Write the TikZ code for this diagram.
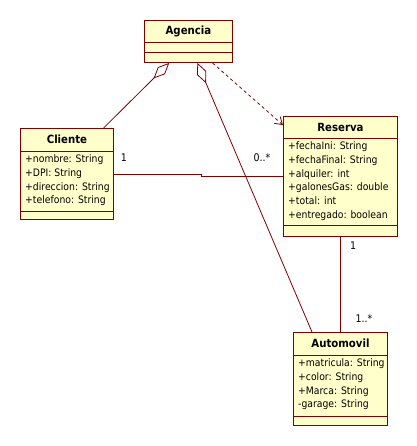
\documentclass[tikz,border=0pt]{standalone}
\usepackage{fontspec}
\setmainfont{DejaVu Sans Condensed}
\usetikzlibrary{arrows.meta,calc}
\definecolor{umlfill}{RGB}{255,255,204}
\definecolor{umlline}{RGB}{128,0,0}

\begin{document}
\begin{tikzpicture}[x=1pt,y=-1pt,
  box/.style={draw=umlline,fill=umlfill,line width=0.9pt,inner sep=0pt,anchor=north west},
  ttl/.style={font=\fontsize{11.3}{12}\selectfont\bfseries,inner sep=0pt},
  att/.style={font=\fontsize{10.3}{13.8}\selectfont,align=left,inner sep=0pt,anchor=north west},
  sep/.style={draw=umlline,line width=0.9pt},
  ln/.style={draw=umlline,line width=0.8pt},
  agg/.style={ln,{Diamond[open,length=22pt,width=10pt]}-},
  dep/.style={ln,dash pattern=on 3pt off 3pt,-{Straight Barb[length=7pt,width=9pt]}},
  mult/.style={font=\fontsize{10.5}{12}\selectfont,inner sep=0pt}]
  \useasboundingbox (0,0) rectangle (416,446);
  % one class box: name, corner, width, height, first and second separator, title, attributes
  \newcommand{\clase}[8]{%
    \node[box,minimum width=#3pt,minimum height=#4pt] (#1) at (#2) {};
    \draw[sep] ([yshift=-#5pt]#1.north west) -- ([yshift=-#5pt]#1.north east);
    \draw[sep] ([yshift=-#6pt]#1.north west) -- ([yshift=-#6pt]#1.north east);
    \node[ttl] (#1t) at ([yshift={-#5pt/2}]#1.north) {#7};
    \node[att] (#1a) at ([xshift=5pt,yshift={-#5pt-3.5pt}]#1.north west) {#8};}
  \clase{agencia}{144,20}{88}{42}{22}{32}{Agencia}{}
  \clase{cliente}{20,128}{93}{91}{23}{83}{Cliente}
    {+nombre: String\\+DPI: String\\+direccion: String\\+telefono: String}
  \clase{reserva}{283,116}{114}{120}{22}{109}{Reserva}
    {+fechaIni: String\\+fechaFinal: String\\+alquiler: int\\+galonesGas: double\\+total: int\\+entregado: boolean}
  \clase{automovil}{293,332}{94}{93}{23}{84}{Automovil}
    {+matricula: String\\+color: String\\+Marca: String\\-garage: String}
  % relations
  \draw[agg] ($(agencia.south west)!0.284!(agencia.south east)$) -- ($(cliente.north west)!0.89!(cliente.north east)$);
  \draw[agg] ($(agencia.south west)!0.6!(agencia.south east)$) -- ($(automovil.north west)!0.2!(automovil.north east)$);
  \draw[dep] ($(agencia.south west)!0.77!(agencia.south east)$) -- ($(reserva.north west)!0.075!(reserva.south west)$);
  \draw[ln] (cliente.east) -- ++(87,0) |- (reserva.west);
  \draw[ln] (reserva.south) -- (automovil.north);
  \node[mult] (m1) at (124,158) {1};
  \node[mult] (m2) at (262,158) {0..*};
  \node[mult] (m3) at (353,246) {1};
  \node[mult] (m4) at (364,319) {1..*};
\end{tikzpicture}
\end{document}
